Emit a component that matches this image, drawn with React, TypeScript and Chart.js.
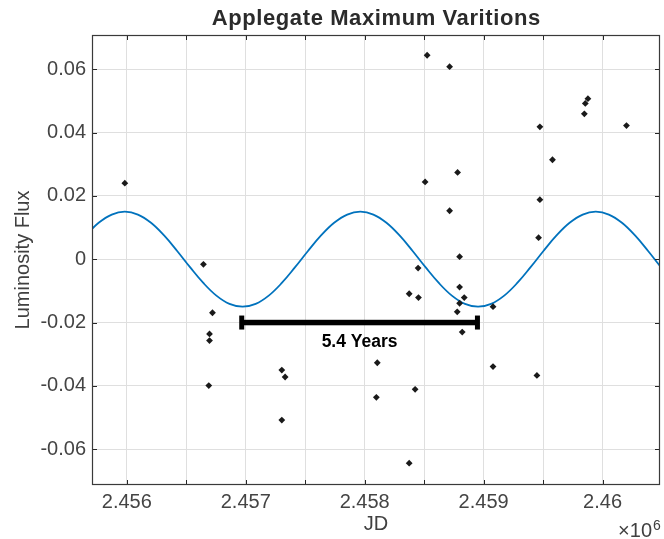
import React, { useEffect, useRef } from 'react';
import { Chart, registerables } from 'chart.js';

Chart.register(...registerables);

// Observed maxima (Julian Date, luminosity flux)
const observationJD = [
  2455983, 2456644, 2456720, 2456695, 2456695, 2456689, 2457303, 2457331, 2457303,
  2458106, 2458098, 2458424, 2458374, 2458374, 2458452, 2458449, 2458508, 2458525,
  2458714, 2458714, 2458781, 2458798, 2458798, 2458837, 2458798, 2458778, 2458820,
  2459079, 2459079, 2459448, 2459462, 2459473, 2459473, 2459579, 2459847, 2459855,
  2459877, 2460201,
];
const observationFlux = [
  0.024, -0.0016, -0.0169, -0.0236, -0.0257, -0.0399, -0.035, -0.0372, -0.0508,
  -0.0327, -0.0436, -0.0411, -0.0644, -0.0109, -0.0121, -0.0028, 0.0244, 0.0644,
  0.0608, 0.0153, 0.0274, 0.0008, -0.0088, -0.0121, -0.0139, -0.0166, -0.023,
  -0.015, -0.0339, -0.0367, 0.0068, 0.0188, 0.0418, 0.0314, 0.0459, 0.0492,
  0.0507, 0.0422,
];

// Fitted curve
const fitJD = [
  2455653, 2455763, 2455873, 2455983, 2456093, 2456203, 2456313, 2456423, 2456533,
  2456643, 2456753, 2456863, 2456973, 2457083, 2457193, 2457303, 2457413, 2457523,
  2457633, 2457743, 2457853, 2457963, 2458073, 2458183, 2458293, 2458403, 2458513,
  2458623, 2458733, 2458843, 2458953, 2459063, 2459173, 2459283, 2459393, 2459503,
  2459613, 2459723, 2459833, 2459943, 2460053, 2460163, 2460273, 2460383, 2460493,
  2460603,
];
const fitFlux = [
  0.0075, 0.0115, 0.0141, 0.015, 0.0141, 0.0115, 0.0075, 0.0026, -0.0026,
  -0.0075, -0.0115, -0.0141, -0.015, -0.0141, -0.0115, -0.0075, -0.0026, 0.0026,
  0.0075, 0.0115, 0.0141, 0.015, 0.0141, 0.0115, 0.0075, 0.0026, -0.0026,
  -0.0075, -0.0115, -0.0141, -0.015, -0.0141, -0.0115, -0.0075, -0.0026, 0.0026,
  0.0075, 0.0115, 0.0141, 0.015, 0.0141, 0.0115, 0.0075, 0.0026, -0.0026,
  -0.0075,
];

const xTickValues = [2456000, 2456500, 2457000, 2457500, 2458000, 2458500, 2459000, 2459500, 2460000];
const xTickLabels = ['2.456', '', '2.457', '', '2.458', '', '2.459', '', '2.46'];
const yTickValues = [-0.06, -0.04, -0.02, 0, 0.02, 0.04, 0.06];
const yTickLabels = ['-0.06', '-0.04', '-0.02', '0', '0.02', '0.04', '0.06'];

const periodStartJD = 2456966;
const periodEndJD = 2458948;
const periodFlux = -0.02;
const periodLabel = '5.4 Years';

const titleText = 'Applegate Maximum Varitions';
const xLabelText = 'JD';
const yLabelText = 'Luminosity Flux';

const FONT = '"Liberation Sans", Arial, Helvetica, sans-serif';

const decorPlugin = {
  id: 'decor',
  afterDraw(chart: any) {
    const { ctx, chartArea: a, scales } = chart;
    const xs = scales.x;
    const ys = scales.y;
    ctx.save();

    // inward tick marks on all sides
    ctx.strokeStyle = '#262626';
    ctx.lineWidth = 1;
    ctx.beginPath();
    for (const v of xTickValues) {
      const px = Math.round(xs.getPixelForValue(v)) + 0.5;
      ctx.moveTo(px, a.bottom);
      ctx.lineTo(px, a.bottom - 5);
      ctx.moveTo(px, a.top);
      ctx.lineTo(px, a.top + 5);
    }
    for (const v of yTickValues) {
      const py = Math.round(ys.getPixelForValue(v)) + 0.5;
      ctx.moveTo(a.left, py);
      ctx.lineTo(a.left + 5, py);
      ctx.moveTo(a.right, py);
      ctx.lineTo(a.right - 5, py);
    }
    ctx.stroke();

    // axes box
    ctx.strokeStyle = '#3a3a3a';
    ctx.lineWidth = 1.2;
    ctx.strokeRect(a.left + 0.5, a.top + 0.5, a.right - a.left - 1, a.bottom - a.top - 1);

    // period bar
    const x1 = xs.getPixelForValue(periodStartJD);
    const x2 = xs.getPixelForValue(periodEndJD);
    const yb = ys.getPixelForValue(periodFlux);
    ctx.fillStyle = '#000';
    ctx.fillRect(x1, yb - 2.75, x2 - x1, 5.5);
    ctx.fillRect(x1 - 2.5, yb - 7, 5, 14);
    ctx.fillRect(x2 - 2.5, yb - 7, 5, 14);
    ctx.font = `bold 17.5px ${FONT}`;
    ctx.textAlign = 'center';
    ctx.textBaseline = 'middle';
    ctx.fillText(periodLabel, (x1 + x2) / 2, yb + 19.5);

    // title
    const cx = (a.left + a.right) / 2;
    ctx.fillStyle = '#2b2b2b';
    ctx.font = `bold 22px ${FONT}`;
    ctx.textAlign = 'center';
    ctx.textBaseline = 'alphabetic';
    (ctx as any).letterSpacing = '0.6px';
    ctx.fillText(titleText, cx + 0.3, 25);
    (ctx as any).letterSpacing = '0px';

    // x label
    ctx.fillStyle = '#404040';
    ctx.font = `20px ${FONT}`;
    ctx.fillText(xLabelText, cx, 530);

    // y label
    ctx.save();
    ctx.translate(29, (a.top + a.bottom) / 2);
    ctx.rotate(-Math.PI / 2);
    ctx.textAlign = 'center';
    ctx.fillText(yLabelText, 0, 0);
    ctx.restore();

    // exponent
    ctx.textAlign = 'right';
    ctx.font = `20px ${FONT}`;
    ctx.fillText('\u00d710', 652, 537);
    ctx.textAlign = 'left';
    ctx.font = `14px ${FONT}`;
    ctx.fillText('6', 653, 530);

    ctx.restore();
  },
};

export default function App() {
  const canvasRef = useRef<HTMLCanvasElement | null>(null);

  useEffect(() => {
    document.body.style.margin = '0';
    const canvas = canvasRef.current;
    if (!canvas) return;
    const chart = new Chart(canvas, {
      type: 'scatter',
      data: {
        datasets: [
          {
            label: 'Maxima',
            data: observationJD.map((x, i) => ({ x, y: observationFlux[i] })),
            pointStyle: 'rectRot',
            pointRadius: 3.4,
            pointBackgroundColor: '#1a1a1a',
            pointBorderColor: '#1a1a1a',
            pointBorderWidth: 0,
            showLine: false,
          },
          {
            label: 'Fit',
            data: fitJD.map((x, i) => ({ x, y: fitFlux[i] })),
            showLine: true,
            borderColor: '#0072BD',
            borderWidth: 1.8,
            pointRadius: 0,
            tension: 0.4,
            fill: false,
          },
        ],
      },
      options: {
        responsive: false,
        animation: false,
        devicePixelRatio: 1,
        layout: { padding: { top: 35, right: 1, left: 0, bottom: 0 } },
        plugins: {
          legend: { display: false },
          title: { display: false },
          tooltip: { enabled: false },
        },
        scales: {
          x: {
            type: 'linear',
            min: 2455707,
            max: 2460483,
            afterBuildTicks: (s: any) => {
              s.ticks = xTickValues.map((v) => ({ value: v }));
            },
            afterFit: (s: any) => {
              s.height = 54;
            },
            grid: { color: '#dfdfdf', lineWidth: 1, drawTicks: false },
            border: { display: false },
            ticks: {
              autoSkip: false,
              maxRotation: 0,
              padding: 5,
              color: '#444444',
              font: { family: FONT, size: 20 },
              callback: (_v: any, i: number) => xTickLabels[i],
            },
          },
          y: {
            type: 'linear',
            min: -0.0713,
            max: 0.0708,
            afterBuildTicks: (s: any) => {
              s.ticks = yTickValues.map((v) => ({ value: v }));
            },
            afterFit: (s: any) => {
              s.width = 92;
            },
            grid: { color: '#dfdfdf', lineWidth: 1, drawTicks: false },
            border: { display: false },
            ticks: {
              autoSkip: false,
              padding: 6,
              color: '#444444',
              font: { family: FONT, size: 20 },
              callback: (_v: any, i: number) => yTickLabels[i],
            },
          },
        },
      },
      plugins: [decorPlugin],
    });
    return () => chart.destroy();
  }, []);

  return (
    <div style={{ position: 'absolute', left: 0, top: 0, width: 664, height: 539, background: '#fff' }}>
      <canvas ref={canvasRef} width={664} height={539} />
    </div>
  );
}
